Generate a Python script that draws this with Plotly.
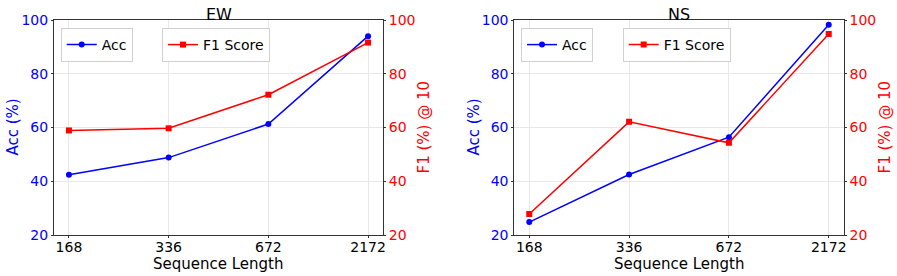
import plotly.graph_objects as go

seq_len = ["168", "336", "672", "2172"]
ew_acc = [42.4, 48.8, 61.3, 94.0]
ew_f1 = [58.9, 59.7, 72.2, 91.6]
ns_acc = [24.8, 42.5, 56.4, 98.2]
ns_f1 = [27.8, 62.1, 54.3, 94.8]
y_ticks = [20, 40, 60, 80, 100]

W, H = 897, 276
BLUE = "#0000ff"
RED = "#ff0000"
FONT = "DejaVu Sans"

fig = go.Figure()

panels = [
    dict(name="EW", acc=ew_acc, f1=ew_f1, x0=54, x1=383, xa="x", ya="y", ya2="y2",
         leg_acc="legend", leg_f1="legend2", acc_lx=60.7, f1_lx=162, ylab_x=12, y2lab_x=423),
    dict(name="NS", acc=ns_acc, f1=ns_f1, x0=514.3, x1=843.7, xa="x2", ya="y3", ya2="y4",
         leg_acc="legend3", leg_f1="legend4", acc_lx=521, f1_lx=622.7, ylab_x=473, y2lab_x=884),
]
y_top, y_bot = 20, 235
ydom = [(H - y_bot) / H, (H - y_top) / H]

layout = dict(
    width=W, height=H,
    margin=dict(l=0, r=0, t=0, b=0),
    paper_bgcolor="white", plot_bgcolor="white",
    font=dict(family=FONT, size=14, color="black"),
    showlegend=True,
)

annotations = []
for i, p in enumerate(panels):
    xd = [p["x0"] / W, p["x1"] / W]
    xkey = "xaxis" if p["xa"] == "x" else "xaxis2"
    ykey = "yaxis" if p["ya"] == "y" else "yaxis3"
    y2key = "yaxis2" if p["ya2"] == "y2" else "yaxis4"
    layout[xkey] = dict(
        domain=xd, anchor=p["ya"], type="category", range=[-0.15, 3.15],
        showgrid=True, gridcolor="#e8e8e8", gridwidth=1,
        showline=True, linecolor="#333333", linewidth=1, mirror=True,
        ticks="outside", ticklen=2, tickcolor="#333333",
        tickfont=dict(size=14, color="black", family=FONT),
        ticklabelstandoff=-3,
        zeroline=False, automargin=False,
    )
    layout[ykey] = dict(
        domain=ydom, anchor=p["xa"], range=[20, 100], tickvals=y_ticks,
        showgrid=True, gridcolor="#e8e8e8", gridwidth=1,
        showline=True, linecolor="#333333", linewidth=1,
        ticks="outside", ticklen=2, tickcolor="#333333",
        tickfont=dict(size=14, color=BLUE, family=FONT),
        zeroline=False, automargin=False,
    )
    layout[y2key] = dict(
        domain=ydom, anchor=p["xa"], overlaying=p["ya"], side="right",
        range=[20, 100], tickvals=y_ticks, showgrid=False,
        showline=True, linecolor="#333333", linewidth=1,
        ticks="outside", ticklen=2, tickcolor="#333333",
        tickfont=dict(size=14, color=RED, family=FONT),
        zeroline=False, automargin=False,
    )
    for leg, lx in ((p["leg_acc"], p["acc_lx"]), (p["leg_f1"], p["f1_lx"])):
        layout[leg] = dict(
            x=lx / W, y=(H - 28) / H, xanchor="left", yanchor="top",
            bgcolor="white", bordercolor="#d0d0d0", borderwidth=1,
            font=dict(size=14, family=FONT, color="black"),
            itemwidth=30, tracegroupgap=0,
        )
    fig.add_trace(go.Scatter(
        x=seq_len, y=p["acc"], mode="lines+markers", name="Acc",
        line=dict(color=BLUE, width=1.5), marker=dict(color=BLUE, size=6, symbol="circle"),
        xaxis=p["xa"], yaxis=p["ya"], legend=p["leg_acc"],
    ))
    fig.add_trace(go.Scatter(
        x=seq_len, y=p["f1"], mode="lines+markers", name="F1 Score",
        line=dict(color=RED, width=1.5), marker=dict(color=RED, size=6, symbol="square"),
        xaxis=p["xa"], yaxis=p["ya2"], legend=p["leg_f1"],
    ))
    cx = (p["x0"] + p["x1"]) / 2 / W
    ymid = (H - (y_top + y_bot) / 2) / H
    common = dict(xref="paper", yref="paper", showarrow=False, xanchor="center", yanchor="middle")
    annotations.append(dict(text=p["name"], x=cx, y=(H - 14) / H,
                            font=dict(size=16, family=FONT, color="black"), **common))
    annotations.append(dict(text="Sequence Length", x=cx, y=(H - 264) / H,
                            font=dict(size=15, family=FONT, color="black"), **common))
    annotations.append(dict(text="Acc (%)", x=p["ylab_x"] / W, y=ymid, textangle=-90,
                            font=dict(size=15, family=FONT, color=BLUE), **common))
    annotations.append(dict(text="F1 (%) @ 10", x=p["y2lab_x"] / W, y=ymid, textangle=-90,
                            font=dict(size=15, family=FONT, color=RED), **common))

layout["annotations"] = annotations
fig.update_layout(**layout)
fig.write_html("out.html", config={"displayModeBar": False},
               post_script="document.body.style.margin='0';")
